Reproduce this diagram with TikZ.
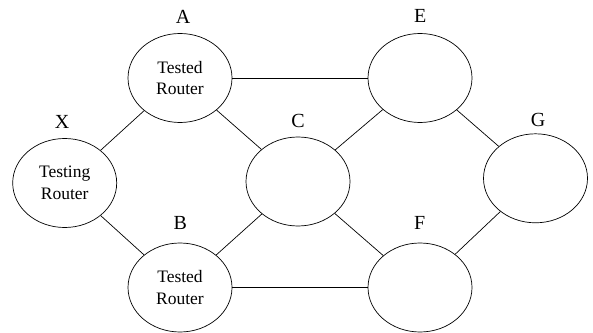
\documentclass[tikz,border=0pt]{standalone}
\usepackage{fontspec}
\setmainfont{Liberation Serif}
\usetikzlibrary{shapes.geometric}
\begin{document}
\begin{tikzpicture}[x=1pt,y=1pt,
  router/.style={draw, ellipse, line width=0.7pt, minimum width=104pt, minimum height=89pt, inner sep=0pt, align=center, font=\fontsize{17.5}{21.5}\selectfont},
  lbl/.style={font=\fontsize{20}{24}\selectfont, inner sep=0pt},
  link/.style={line width=0.7pt}]
\useasboundingbox (0,0) rectangle (593,332);
\node[router] (A) at (180,254) {Tested\\Router};
\node[router] (X) at (64.7,149) {Testing\\Router};
\node[router] (B) at (180,44.5) {Tested\\Router};
\node[router] (C) at (298,150.5) {};
\node[router] (E) at (420,254) {};
\node[router] (F) at (420,44.5) {};
\node[router] (G) at (535.5,153.7) {};
\node[lbl] (lA) at (183,315) {A};
\node[lbl] (lX) at (62,210.3) {X};
\node[lbl] (lB) at (180.3,109.3) {B};
\node[lbl] (lC) at (298,211) {C};
\node[lbl] (lE) at (420.3,316) {E};
\node[lbl] (lF) at (419.7,108.7) {F};
\node[lbl] (lG) at (538,212) {G};
\draw[link] (A) -- (E);
\draw[link] (B) -- (F);
\draw[link] (A) -- (X);
\draw[link] (A) -- (C);
\draw[link] (X) -- (B);
\draw[link] (B) -- (C);
\draw[link] (C) -- (E);
\draw[link] (C) -- (F);
\draw[link] (E) -- (G);
\draw[link] (F) -- (G);
\end{tikzpicture}
\end{document}
